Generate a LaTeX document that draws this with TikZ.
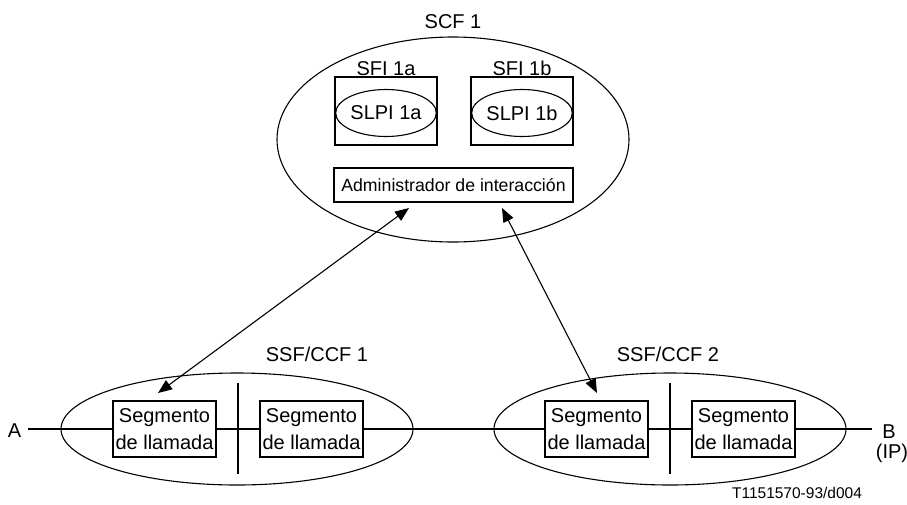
\documentclass[tikz,border=0pt]{standalone}
\usepackage{fontspec}
\setmainfont{Liberation Sans}
\usetikzlibrary{shapes.geometric,arrows.meta}
\begin{document}
\begin{tikzpicture}[x=1pt,y=-1pt,line width=1.1pt,
  lbl/.style={font=\fontsize{20}{24}\selectfont, inner sep=0pt},
  oval/.style={draw, ellipse, inner sep=0pt},
  sfibox/.style={draw, minimum width=102pt, minimum height=68pt, inner sep=0pt},
  segbox/.style={draw, fill=white, minimum width=103pt, minimum height=56pt, inner sep=0pt, align=center, font=\fontsize{20}{26.6}\selectfont},
  dbl/.style={{Triangle[length=14pt,width=11pt]}-{Triangle[length=14pt,width=11pt]}}]
\useasboundingbox (0,0) rectangle (907,504);
% SCF 1
\node[oval, minimum width=352pt, minimum height=205pt] (scf) at (453,139.5) {};
\node[lbl] (scflbl) at (453,21.5) {SCF 1};
\node[sfibox] (sfia) at (386,111) {};
\node[sfibox] (sfib) at (522,111) {};
\node[lbl] (sfialbl) at (386,68.5) {SFI 1a};
\node[lbl] (sfiblbl) at (522,68.5) {SFI 1b};
\node[oval, minimum width=92pt, minimum height=47pt, font=\fontsize{20}{24}\selectfont] (slpia) at (386,113) {SLPI 1a};
\node[oval, minimum width=92pt, minimum height=47pt, font=\fontsize{20}{24}\selectfont] (slpib) at (522,113) {SLPI 1b};
\node[draw, minimum width=239pt, minimum height=34pt, inner sep=0pt, font=\fontsize{17.7}{20}\selectfont] (adm) at (453.5,185) {Administrador de interacción};
% SSF/CCF 1
\node[oval, minimum width=352pt, minimum height=112pt] (ssf1) at (237,429) {};
\node[lbl] (ssf1lbl) at (317,354.5) {SSF/CCF 1};
\coordinate (d1t) at (238,383);
\coordinate (d1b) at (238,474);
\draw (d1t) -- (d1b);
% SSF/CCF 2
\node[oval, minimum width=352pt, minimum height=112pt] (ssf2) at (670,429) {};
\node[lbl] (ssf2lbl) at (668,354.5) {SSF/CCF 2};
\coordinate (d2t) at (670,383);
\coordinate (d2b) at (670,474);
\draw (d2t) -- (d2b);
% segment boxes
\node[segbox] (s1) at (164.5,429) {Segmento\\de llamada};
\node[segbox] (s2) at (311.5,429) {Segmento\\de llamada};
\node[segbox] (s3) at (596.5,429) {Segmento\\de llamada};
\node[segbox] (s4) at (743.5,429) {Segmento\\de llamada};
% end labels
\node[lbl, inner xsep=6pt] (A) at (14.5,431) {A};
\node[lbl, inner xsep=10pt] (B) at (889,432) {B};
\node[lbl] (IP) at (892,453) {(IP)};
\draw (s1.west -| A.east) -- (s1.west);
\draw (s1) -- (s2);
\draw (s2) -- (s3);
\draw (s3) -- (s4);
\draw (s4.east) -- (s4.east -| B.west);
% arrows
\coordinate (a1t) at (409,208);
\coordinate (a1b) at (158,393);
\coordinate (a2t) at (502,208);
\coordinate (a2b) at (597,393);
\draw[dbl] (a1t) -- (a1b);
\draw[dbl] (a2t) -- (a2b);
% footer
\node[inner sep=0pt, font=\fontsize{15.5}{18}\selectfont] (foot) at (797,492.5) {T1151570-93/d004};
\end{tikzpicture}
\end{document}
